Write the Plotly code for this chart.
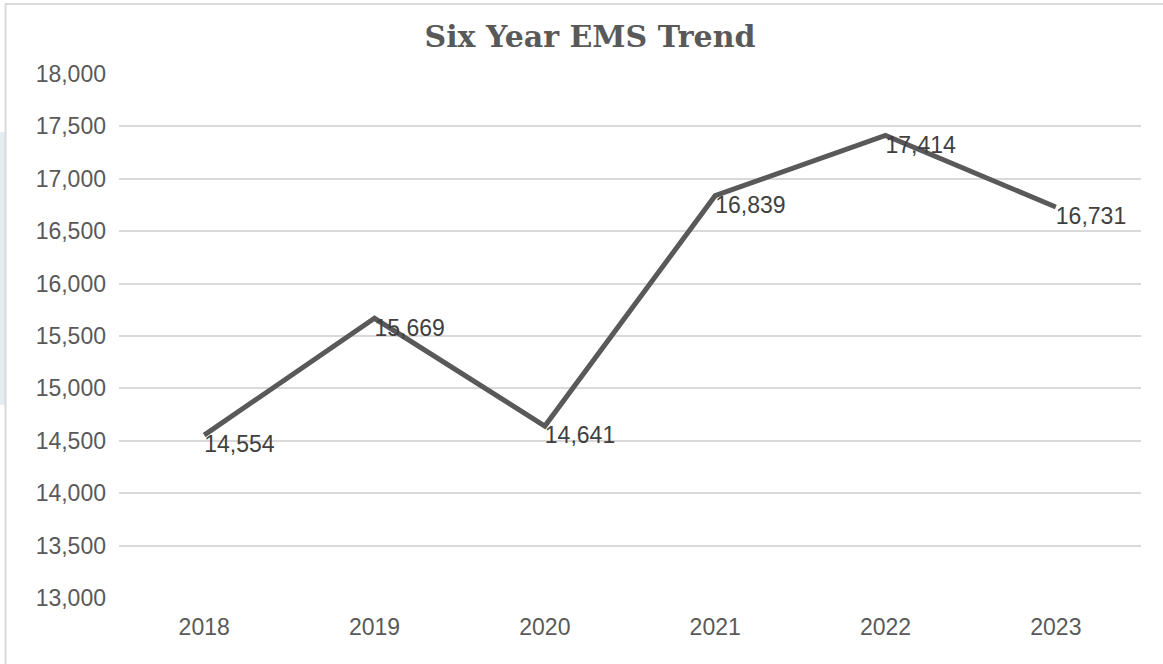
import plotly.graph_objects as go

# Annual EMS call volume
years = ["2018", "2019", "2020", "2021", "2022", "2023"]
calls = [14554, 15669, 14641, 16839, 17414, 16731]
y_ticks = [13000, 13500, 14000, 14500, 15000, 15500, 16000, 16500, 17000, 17500, 18000]

W, H = 1163, 664
L, R, T, B = 119, 22, 74, 66
PW, PH = W - L - R, H - T - B

SANS = "Liberation Sans, Arial, sans-serif"


def px_x(x):
    return (x - L) / PW


def px_y(y):
    return (H - B - y) / PH


fig = go.Figure()
fig.add_trace(go.Scatter(
    x=years,
    y=calls,
    mode="lines+text",
    line=dict(color="#595959", width=5),
    text=[f"{v:,}" for v in calls],
    textposition="bottom right",
    textfont=dict(family=SANS, size=23, color="#404040"),
    cliponaxis=False,
    hoverinfo="skip",
))

fig.update_layout(
    width=W,
    height=H,
    margin=dict(l=L, r=R, t=T, b=B),
    paper_bgcolor="white",
    plot_bgcolor="white",
    showlegend=False,
    title=dict(
        text="<b>Six Year EMS Trend</b>",
        x=590 / W,
        xanchor="center",
        y=1 - 36 / H,
        yanchor="middle",
        font=dict(family="DejaVu Serif, serif", size=30, color="#595959"),
    ),
    xaxis=dict(
        type="category",
        range=[-0.5, 5.5],
        showgrid=False,
        zeroline=False,
        showline=False,
        ticks="",
        tickfont=dict(family=SANS, size=23, color="#595959"),
        ticklabelstandoff=13,
    ),
    yaxis=dict(
        range=[13000, 18000],
        tickvals=y_ticks,
        ticktext=[f"{v:,}" for v in y_ticks],
        showgrid=True,
        gridcolor="#d9d9d9",
        gridwidth=1.5,
        zeroline=False,
        showline=False,
        ticks="",
        tickfont=dict(family=SANS, size=23, color="#595959"),
        ticklabelstandoff=12,
    ),
    shapes=[
        # pale side panel at the left edge
        dict(type="rect", xref="paper", yref="paper",
             x0=px_x(0), x1=px_x(5), y0=px_y(405), y1=px_y(132),
             fillcolor="#e3eef0", line=dict(width=0), layer="below"),
        # chart frame
        dict(type="rect", xref="paper", yref="paper",
             x0=px_x(5.5), x1=px_x(W + 10), y0=px_y(H + 10), y1=px_y(4),
             fillcolor="rgba(0,0,0,0)", line=dict(color="#d9d9d9", width=2), layer="below"),
    ],
)

fig.write_html("out.html")
